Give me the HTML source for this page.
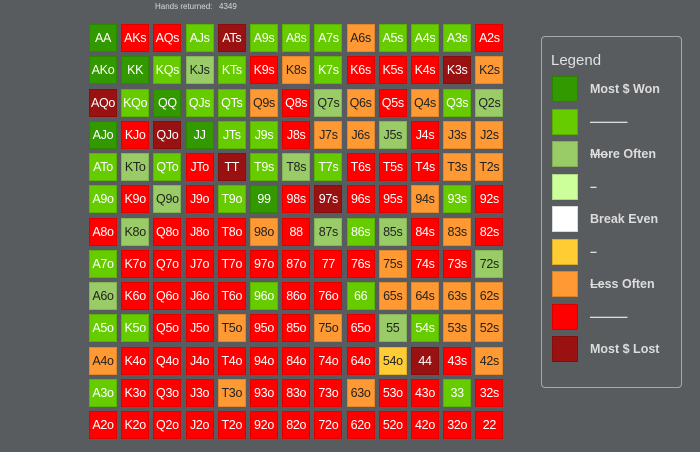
<!DOCTYPE html>
<html><head><meta charset="utf-8"><style>
body{margin:0;width:700px;height:452px;background:#595c5f;font-family:"Liberation Sans",sans-serif;position:relative;overflow:hidden}
.hdr{position:absolute;left:155px;top:2px;font-size:8px;color:#d8d8d8}
.cell{position:absolute;width:28px;height:28px;box-sizing:border-box;border:1px solid rgba(0,0,0,0.12);display:flex;align-items:center;justify-content:center;font-size:12.5px;letter-spacing:-0.3px}
.legend{position:absolute;left:541px;top:36px;width:141px;height:352px;border:1.5px solid #a8a8a8;border-radius:4px;box-sizing:border-box}
.lt{position:absolute;left:9px;top:15px;font-size:15px;color:#e0e0e0}
.sw{position:absolute;left:10px;width:26px;height:26px;box-sizing:border-box;border:1px solid rgba(0,0,0,0.15)}
.ll{position:absolute;left:48px;font-size:12.5px;font-weight:bold;color:#dcdcdc}
.st{text-decoration:line-through}
</style></head><body>
<div class="hdr">Hands returned:&nbsp;&nbsp; 4349</div>
<div id="grid"></div>
<div class="legend">
<div class="lt">Legend</div>
</div>
<script>
const ranks=['A','K','Q','J','T','9','8','7','6','5','4','3','2'];
const colors=['#339900','#66cc00','#99cc66','#ccff99','#ffffff','#ffcc33','#ff9933','#ff0000','#991111'];
const textCol=['#fff','#fff','#222','#222','#222','#222','#222','#fff','#fff'];
const levels=[
"D R R G X G G G O G G G R",
"D D G L G R O G R R R X O",
"X G D G G O R L O R O G L",
"D R X D G G R O O L R O O",
"G L G R X G L G R R R O O",
"G R L R G D R X R R O G R",
"R L R R R O R L G L R O R",
"G R R R R R R R R O R R L",
"L R R R R G R R G O O O O",
"G G R R O R R O R L G O O",
"O R R R R R R R R Y X R O",
"G R R R O R R R O R R G R",
"R R R R R R R R R R R R R"];
const code={D:0,G:1,L:2,P:3,W:4,Y:5,O:6,R:7,X:8};
const grid=document.getElementById('grid');
for(let r=0;r<13;r++){const row=levels[r].split(' ');for(let c=0;c<13;c++){
 const lv=code[row[c]];
 const d=document.createElement('div');
 d.className='cell';
 d.style.left=(89+c*32.2)+'px';d.style.top=(24+r*32.25)+'px';
 d.style.background=colors[lv];d.style.color=textCol[lv];
 let t=r==c?ranks[r]+ranks[c]:(c>r?ranks[r]+ranks[c]+'s':ranks[c]+ranks[r]+'o');
 d.textContent=t;
 
 
 grid.appendChild(d);
}}
const legLabels=['Most $ Won','———','<span class="st">Mo</span>re Often','–','Break Even','–','<span class="st">Le</span>ss Often','———','Most $ Lost'];
const leg=document.querySelector('.legend');
for(let i=0;i<9;i++){
 const s=document.createElement('div');s.className='sw';s.style.top=(39+i*32.5)+'px';s.style.background=colors[i];
 
 
 leg.appendChild(s);
 const l=document.createElement('div');l.className='ll';l.style.top=(45+i*32.5)+'px';l.innerHTML=legLabels[i];
 
 
 leg.appendChild(l);
}
</script>
</body></html>
